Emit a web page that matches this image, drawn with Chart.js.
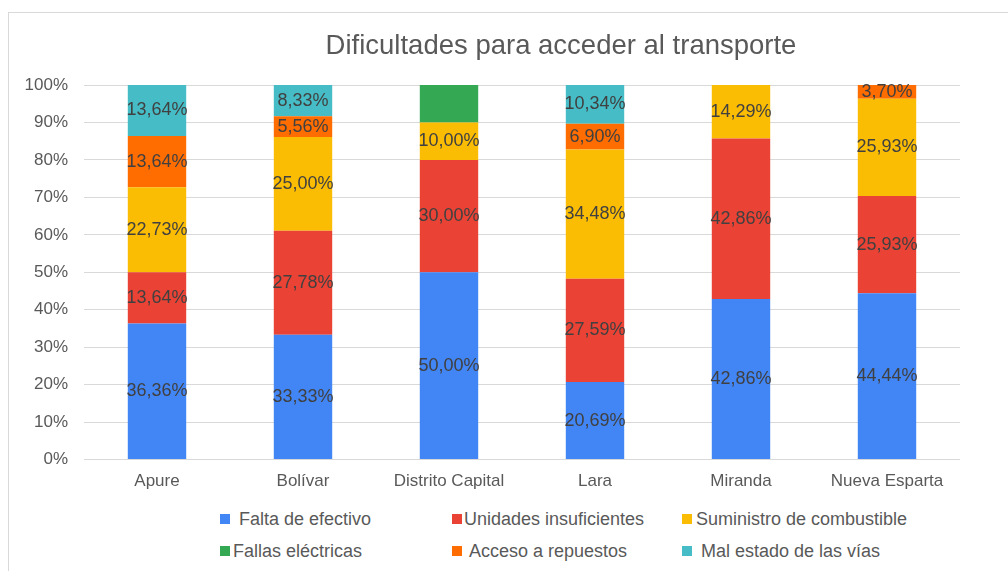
<!DOCTYPE html>
<html lang="es">
<head>
    <meta charset="UTF-8">
    <title>Dificultades para acceder al transporte</title>
    <script src="https://cdn.jsdelivr.net/npm/chart.js"></script>
    <style>
        body { margin: 0; overflow: hidden; background: #fff; font-family: "Liberation Sans", Arial, sans-serif; }
        #frame { position: absolute; left: 8px; top: 12px; width: 1104px; height: 600px; border: 1px solid #d9d9d9; }
        #chartBox { position: absolute; left: 0; top: 0; width: 1104px; height: 495px; }
        #legend { position: absolute; left: 0; top: 0; }
        .item { position: absolute; font-size: 18px; line-height: 20px; color: #595959; white-space: nowrap; }
        .item span { display: inline-block; width: 10px; height: 10px; vertical-align: 1px; }
    </style>
</head>
<body>
<div id="frame">
    <div id="chartBox"><canvas id="myChart"></canvas></div>
    <div id="legend"></div>
</div>

<script>
    const estados = ['Apure', 'Bolívar', 'Distrito Capital', 'Lara', 'Miranda', 'Nueva Esparta'];

    const faltaEfectivo = [36.36, 33.33, 50.00, 20.69, 42.86, 44.44];
    const unidadesInsuf = [13.64, 27.78, 30.00, 27.59, 42.86, 25.93];
    const combustible   = [22.73, 25.00, 10.00, 34.48, 14.29, 25.93];
    const fallasElec    = [0, 0, 10.00, 0, 0, 0];
    const repuestos     = [13.64, 5.56, 0, 6.90, 0, 3.70];
    const malEstado     = [13.64, 8.33, 0, 10.34, 0, 0];

    const yTicks = [0, 10, 20, 30, 40, 50, 60, 70, 80, 90, 100];

    const datasets = [
        { label: 'Falta de efectivo', data: faltaEfectivo, backgroundColor: '#4285F4' },
        { label: 'Unidades insuficientes', data: unidadesInsuf, backgroundColor: '#EA4335' },
        { label: 'Suministro de combustible', data: combustible, backgroundColor: '#FBBC04' },
        { label: 'Fallas eléctricas', data: fallasElec, backgroundColor: '#34A853', noLabels: true },
        { label: 'Acceso a repuestos', data: repuestos, backgroundColor: '#FF6D01' },
        { label: 'Mal estado de las vías', data: malEstado, backgroundColor: '#46BDC6' }
    ];

    const FONT = '"Liberation Sans", Arial, sans-serif';

    // etiquetas de valor dentro de cada segmento
    const valueLabels = {
        id: 'valueLabels',
        afterDatasetsDraw(chart) {
            const ctx = chart.ctx;
            ctx.save();
            ctx.font = '18px ' + FONT;
            ctx.fillStyle = '#404040';
            ctx.textAlign = 'center';
            ctx.textBaseline = 'middle';
            chart.data.datasets.forEach((ds, i) => {
                if (ds.noLabels) return;
                chart.getDatasetMeta(i).data.forEach((bar, j) => {
                    const v = ds.data[j];
                    if (!v) return;
                    const y = (bar.y + bar.base) / 2;
                    ctx.fillText(v.toFixed(2).replace('.', ',') + '%', bar.x, y);
                });
            });
            ctx.restore();
        }
    };

    const ctx = document.getElementById('myChart').getContext('2d');
    new Chart(ctx, {
        type: 'bar',
        data: { labels: estados, datasets: datasets },
        plugins: [valueLabels],
        options: {
            responsive: true,
            maintainAspectRatio: false,
            animation: false,
            layout: { padding: { left: 0, right: 0, top: 0, bottom: 12 } },
            datasets: { bar: { categoryPercentage: 1, barPercentage: 0.4 } },
            plugins: {
                legend: { display: false },
                tooltip: { enabled: false },
                title: {
                    display: true,
                    text: 'Dificultades para acceder al transporte',
                    color: '#595959',
                    font: { family: FONT, size: 27.5, weight: 'normal' },
                    padding: { top: 17, bottom: 22 }
                }
            },
            scales: {
                x: {
                    stacked: true,
                    grid: { display: false },
                    border: { display: false },
                    ticks: { color: '#595959', padding: 4, font: { family: FONT, size: 17 } }
                },
                y: {
                    stacked: true,
                    min: 0,
                    max: 100,
                    afterFit(scale) { scale.width = 75; },
                    afterBuildTicks(scale) { scale.ticks = yTicks.map(v => ({ value: v })); },
                    grid: { color: '#d9d9d9', drawTicks: false },
                    border: { display: false },
                    ticks: {
                        color: '#595959',
                        padding: 16,
                        font: { family: FONT, size: 17 },
                        callback: v => v + '%'
                    }
                },
                // eje vacío a la derecha: deja el área de trazado donde está en el original
                spacer: {
                    type: 'linear',
                    position: 'right',
                    afterFit(scale) { scale.width = 153; },
                    grid: { display: false },
                    border: { display: false },
                    ticks: { display: false }
                }
            }
        }
    });

    // leyenda en cuadrícula de 3 columnas
    const legendCols = [211, 443, 673];
    const legendRows = [496, 528];
    const legendGaps = [9, 2, 4, 3, 7, 9];
    const legend = document.getElementById('legend');
    datasets.forEach((ds, i) => {
        const el = document.createElement('div');
        el.className = 'item';
        el.style.left = legendCols[i % 3] + 'px';
        el.style.top = legendRows[Math.floor(i / 3)] + 'px';
        el.innerHTML = '<span style="background:' + ds.backgroundColor + ';margin-right:' + legendGaps[i] + 'px"></span>' + ds.label;
        legend.appendChild(el);
    });
</script>
</body>
</html>
